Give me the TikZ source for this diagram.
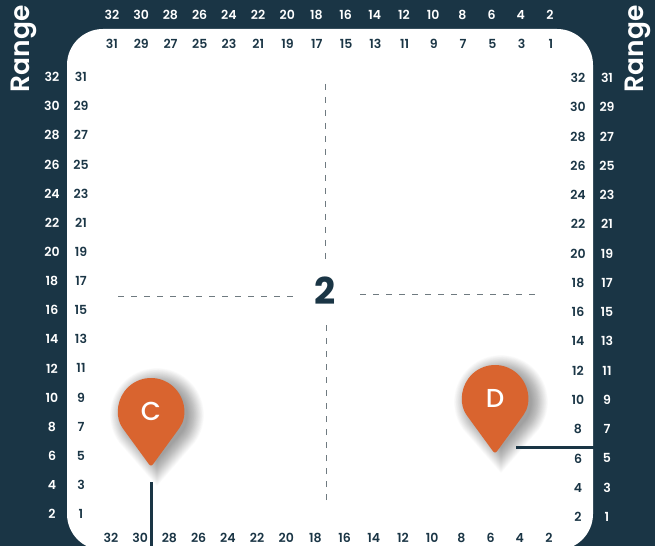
\documentclass[tikz,border=0pt]{standalone}
\usepackage{fontspec}
\setmainfont{Poppins}
\newfontfamily\numfont{Poppins SemiBold}
\newfontfamily\pinfont{Poppins Medium}
\usepackage{xcolor}
\usetikzlibrary{positioning,calc}
\definecolor{RangeNavy}{HTML}{1A3545}
\definecolor{PinOrange}{HTML}{D9642F}
\definecolor{AimGray}{HTML}{6F7A80}
\tikzset{
  numlight/.style={text=white,font=\numfont\fontsize{12.5}{14}\selectfont,inner sep=0pt},
  numdark/.style={text=RangeNavy,font=\numfont\fontsize{12.5}{14}\selectfont,inner sep=0pt},
  rangelabel/.style={text=white,font=\numfont\fontsize{26.5}{28}\selectfont,rotate=90,inner sep=0pt},
  aimline/.style={AimGray,line width=.8pt,dash pattern=on 6pt off 7pt},
  tickbar/.style={RangeNavy,line width=3pt}
}

\begin{document}
\begin{tikzpicture}[x=1pt,y=1pt]
  \useasboundingbox (0,0) rectangle (655,546);
  \fill[RangeNavy] (0,0) rectangle (655,546);
  \begin{scope}
    \clip (0,0) rectangle (655,546);
    \fill[white,rounded corners=36pt] (67,-4) rectangle (593,517);
  \end{scope}

  % Escalas alrededor del panel.
  \foreach \n [evaluate=\n as \xx using {112+(32-\n)*14.6}] in {32,30,...,2}
    \node[numlight] (top\n) at (\xx,531) {\n};
  \foreach \n [evaluate=\n as \xx using {112+(31-\n)*14.63}] in {31,29,...,1}
    \node[numdark] (topin\n) at (\xx,502) {\n};
  \foreach \n [evaluate=\n as \yy using {469-(32-\n)*14.57}] in {32,30,...,2}
    \node[numlight] (left\n) at (52,\yy) {\n};
  \foreach \n [evaluate=\n as \yy using {469-(31-\n)*14.57}] in {31,29,...,1}
    \node[numdark] (leftin\n) at (81,\yy) {\n};
  \foreach \n [evaluate=\n as \yy using {468-(32-\n)*14.63}] in {32,30,...,2}
    \node[numdark] (rightin\n) at (578,\yy) {\n};
  \foreach \n [evaluate=\n as \yy using {468-(31-\n)*14.63}] in {31,29,...,1}
    \node[numlight] (right\n) at (607,\yy) {\n};
  \foreach \n [evaluate=\n as \xx using {111+(32-\n)*14.6}] in {32,30,...,2}
    \node[numdark] (bottom\n) at (\xx,8.5) {\n};

  \node[rangelabel] (rangeL) at (24,497) {Range};
  \node[rangelabel] (rangeR) at (638,497) {Range};

  % Miras de la zona central.
  \node[text=RangeNavy,font=\bfseries\fontsize{37}{40}\selectfont,inner sep=0pt] (zone) at (325,255) {2};
  \coordinate (aimW) at (118,250);
  \coordinate (aimWin) at (300,250);
  \coordinate (aimE) at (360,252);
  \coordinate (aimEin) at (538,252);
  \coordinate (aimN) at (325,462);
  \coordinate (aimNin) at (325,284);
  \coordinate (aimS) at (326,46);
  \coordinate (aimSin) at (326,224);
  \draw[aimline] (aimW) -- (aimWin);
  \draw[aimline] (aimE) -- (aimEin);
  \draw[aimline] (aimN) -- (aimNin);
  \draw[aimline] (aimS) -- (aimSin);

  % Marcadores: primero la sombra difusa, luego la gota.
  \foreach \px/\py/\lab in {151/135/C,495/148/D}{
    \begin{scope}[shift={(\px,\py)}]
      \foreach \s in {0.92,0.94,...,1.44}
        \fill[black,opacity=.014,shift={(6,-4)},scale=\s]
          (26.7,-19.4) arc[start angle=-36,end angle=216,radius=33pt] -- (0,-50) -- cycle;
      \fill[PinOrange,rounded corners=3pt]
        (26.7,-19.4) arc[start angle=-36,end angle=216,radius=33pt] -- (0,-56) -- cycle;
      \node[text=white,font=\pinfont\fontsize{26}{28}\selectfont,inner sep=0pt] (pin\lab) at (0,0) {\lab};
    \end{scope}
  }

  % Marcas de posicion.
  \coordinate (markC) at (151,64);
  \coordinate (markCend) at (151,0);
  \coordinate (markD) at (516,99);
  \coordinate (markDend) at (594,99);
  \draw[tickbar] (markC) -- (markCend);
  \draw[tickbar] (markD) -- (markDend);
\end{tikzpicture}
\end{document}
